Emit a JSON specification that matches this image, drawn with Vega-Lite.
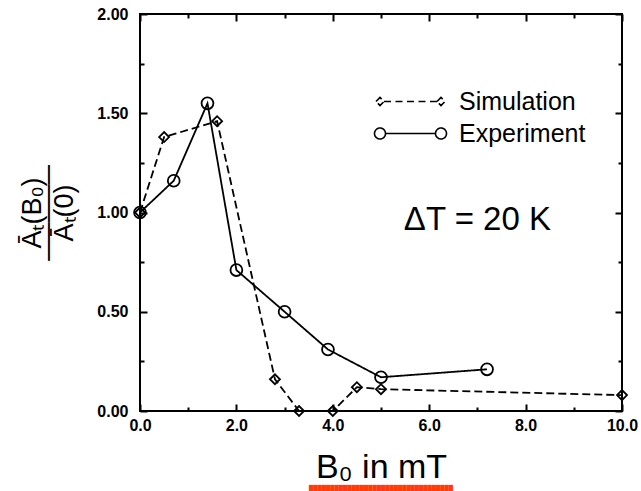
{
  "$schema": "https://vega.github.io/schema/vega-lite/v6.json",
  "width": 482,
  "height": 397,
  "autosize": {"type": "none"},
  "padding": {"left": 140, "top": 14, "right": 19, "bottom": 80},
  "background": "white",
  "title": {"text": "██████████████████████████████████", "orient": "bottom", "anchor": "middle", "font": "DejaVu Sans", "fontSize": 5.5, "fontWeight": "normal", "color": "#ff3b0a", "offset": 2},
  "config": {
    "font": "Liberation Sans",
    "view": {"stroke": "black", "strokeWidth": 2},
    "axis": {"domain": false, "tickColor": "black", "tickWidth": 2, "tickSize": 7, "offset": -7, "grid": false, "labelColor": "black", "titleColor": "black", "labelFlush": false}
  },
  "datasets": {
    "curves": [
      {"series": "Simulation", "B0": 0.0, "ratio": 1.00},
      {"series": "Simulation", "B0": 0.5, "ratio": 1.38},
      {"series": "Simulation", "B0": 1.6, "ratio": 1.46},
      {"series": "Simulation", "B0": 2.8, "ratio": 0.16},
      {"series": "Simulation", "B0": 3.3, "ratio": 0.0},
      {"series": "Simulation", "B0": 4.0, "ratio": 0.0},
      {"series": "Simulation", "B0": 4.5, "ratio": 0.12},
      {"series": "Simulation", "B0": 5.0, "ratio": 0.11},
      {"series": "Simulation", "B0": 10.0, "ratio": 0.08},
      {"series": "Experiment", "B0": 0.0, "ratio": 1.00},
      {"series": "Experiment", "B0": 0.7, "ratio": 1.16},
      {"series": "Experiment", "B0": 1.4, "ratio": 1.55},
      {"series": "Experiment", "B0": 2.0, "ratio": 0.71},
      {"series": "Experiment", "B0": 3.0, "ratio": 0.50},
      {"series": "Experiment", "B0": 3.9, "ratio": 0.31},
      {"series": "Experiment", "B0": 5.0, "ratio": 0.17},
      {"series": "Experiment", "B0": 7.2, "ratio": 0.21}
    ],
    "note": [{"B0": 7.0, "ratio": 0.962, "label": "ΔT = 20 K"}]
  },
  "layer": [
    {
      "data": {"name": "curves"},
      "mark": {"type": "line", "color": "black", "strokeWidth": 1.8},
      "encoding": {
        "x": {"field": "B0", "type": "quantitative", "scale": {"domain": [0, 10], "nice": false},
          "axis": {"orient": "bottom", "values": [0,1,2,3,4,5,6,7,8,9,10],
            "tickDash": {"condition": {"test": "datum.value % 2 === 0", "value": [1, 0]}, "value": [0, 3, 4, 20]},
            "labelExpr": "datum.value % 2 === 0 ? format(datum.value, '.1f') : ''",
            "labelFontSize": 16, "labelFontWeight": "bold", "labelPadding": 6,
            "title": "B₀ in mT", "titleFontSize": 34, "titleFontWeight": "normal", "titlePadding": 17}},
        "y": {"field": "ratio", "type": "quantitative", "scale": {"domain": [0, 2], "nice": false},
          "axis": {"orient": "left", "values": [0,0.25,0.5,0.75,1,1.25,1.5,1.75,2],
            "tickDash": {"condition": {"test": "datum.value % 0.5 === 0", "value": [1, 0]}, "value": [0, 3, 4, 20]},
            "labelExpr": "datum.value % 0.5 === 0 ? format(datum.value, '.2f') : ''",
            "labelFontSize": 16, "labelFontWeight": "bold", "labelPadding": 12,
            "title": ["Āₜ(B₀)", "─────", "Āₜ(0)"], "titleFontSize": 27, "titleFontWeight": "normal", "titleLineHeight": 16, "titlePadding": 18}},
        "strokeDash": {"field": "series", "type": "nominal",
          "scale": {"domain": ["Simulation", "Experiment"], "range": [[8, 4], [1, 0]]},
          "legend": {"orient": "none", "legendX": 258, "legendY": 75, "title": null, "padding": 0,
            "labelFontSize": 25, "labelOffset": 36, "symbolSize": 400, "rowPadding": 6,
            "labelColor": "black", "symbolStrokeColor": "black", "symbolFillColor": "transparent", "symbolStrokeWidth": 1.6, "symbolDash": [1, 0],
            "encode": {"symbols": {"update": {
              "shape": {"signal": "datum.value === 'Simulation' ? 'M-3.45,0L-3.05,-0.4L-2.65,0L-3.05,0.4ZM2.65,0L3.05,-0.4L3.45,0L3.05,0.4ZM-2.65,0L-1.95,0M-1.5,0L-0.8,0M-0.35,0L0.35,0M0.8,0L1.5,0M1.95,0L2.65,0' : 'M-2.5,0A0.55,0.55 0 1,1 -3.6,0A0.55,0.55 0 1,1 -2.5,0ZM3.6,0A0.55,0.55 0 1,1 2.5,0A0.55,0.55 0 1,1 3.6,0ZM-2.5,0L2.5,0'"},
              "size": {"value": 400},
              "strokeDash": {"value": [1, 0]},
              "stroke": {"value": "black"},
              "fill": {"value": "transparent"},
              "strokeWidth": {"value": 1.6},
              "opacity": {"value": 1}
            }}}}
        },
        "detail": {"field": "series"}
      }
    },
    {
      "data": {"name": "curves"},
      "transform": [{"filter": "datum.series === 'Simulation'"}],
      "mark": {"type": "point", "shape": "diamond", "size": 100, "filled": false, "stroke": "black", "strokeWidth": 1.8, "opacity": 1},
      "encoding": {
        "x": {"field": "B0", "type": "quantitative",
          "axis": {"orient": "top", "values": [0,1,2,3,4,5,6,7,8,9,10], "labels": false, "title": null,
            "tickDash": {"condition": {"test": "datum.value % 2 === 0", "value": [1, 0]}, "value": [0, 3, 4, 20]}}},
        "y": {"field": "ratio", "type": "quantitative",
          "axis": {"orient": "right", "values": [0,0.25,0.5,0.75,1,1.25,1.5,1.75,2], "labels": false, "title": null,
            "tickDash": {"condition": {"test": "datum.value % 0.5 === 0", "value": [1, 0]}, "value": [0, 3, 4, 20]}}}
      }
    },
    {
      "data": {"name": "curves"},
      "transform": [{"filter": "datum.series === 'Experiment'"}],
      "mark": {"type": "point", "shape": "circle", "size": 140, "filled": false, "stroke": "black", "strokeWidth": 1.8, "opacity": 1},
      "encoding": {
        "x": {"field": "B0", "type": "quantitative", "axis": null},
        "y": {"field": "ratio", "type": "quantitative", "axis": null}
      }
    },
    {
      "data": {"name": "note"},
      "mark": {"type": "text", "fontSize": 33, "align": "center", "baseline": "middle", "color": "black"},
      "encoding": {
        "x": {"field": "B0", "type": "quantitative", "axis": null},
        "y": {"field": "ratio", "type": "quantitative", "axis": null},
        "text": {"field": "label"}
      }
    }
  ],
  "resolve": {"axis": {"x": "independent", "y": "independent"}}
}
